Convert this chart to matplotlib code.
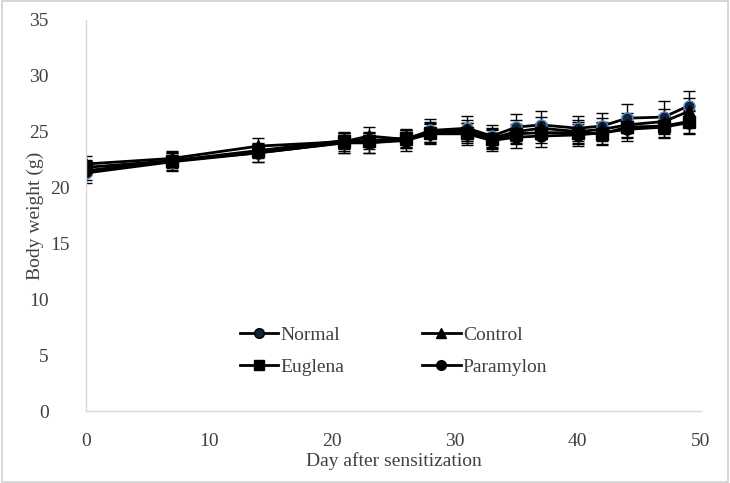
import matplotlib.pyplot as plt
from matplotlib.lines import Line2D
from matplotlib.transforms import ScaledTranslation

plt.rcParams['font.family'] = ['Liberation Serif', 'DejaVu Serif']

days = [0, 7, 14, 21, 23, 26, 28, 31, 33, 35, 37, 40, 42, 44, 47, 49]

normal = [21.3, 22.3, 23.1, 24.0, 24.0, 24.3, 25.1, 25.3, 24.6, 25.4, 25.6, 25.3, 25.5, 26.2, 26.3, 27.3]
control = [22.1, 22.6, 23.7, 24.1, 24.6, 24.3, 25.0, 25.1, 24.4, 25.0, 25.3, 25.0, 25.2, 25.6, 25.9, 26.8]
euglena = [21.8, 22.4, 23.3, 24.2, 24.2, 24.4, 24.9, 24.9, 24.3, 24.8, 24.9, 24.9, 24.8, 25.4, 25.5, 25.9]
paramylon = [21.5, 22.4, 23.1, 24.0, 24.0, 24.2, 24.8, 24.8, 24.2, 24.5, 24.6, 24.7, 24.9, 25.2, 25.4, 25.8]

normal_err = [0.9, 0.8, 0.8, 0.9, 0.9, 0.8, 1.0, 1.1, 1.0, 1.2, 1.2, 1.1, 1.2, 1.3, 1.4, 1.3]
control_err = [0.7, 0.7, 0.7, 0.8, 0.8, 0.8, 0.9, 0.9, 0.9, 1.0, 1.0, 1.0, 1.0, 1.1, 1.1, 1.2]
euglena_err = [0.7, 0.7, 0.7, 0.8, 0.8, 0.8, 0.9, 0.9, 0.9, 0.9, 0.9, 1.0, 1.0, 1.0, 1.0, 1.0]
paramylon_err = [0.8, 0.8, 0.8, 0.9, 0.9, 0.9, 0.9, 1.0, 0.9, 1.0, 1.0, 1.0, 1.0, 1.0, 1.0, 1.0]

fig = plt.figure(figsize=(7.3, 4.83), dpi=100)
ax = fig.add_axes([0.118, 0.149, 0.842, 0.81])

# series: (label, values, errors, marker, face, edge)
series = [
    ('Normal', normal, normal_err, 'o', '#14233a', '#5b8fc9'),
    ('Control', control, control_err, '^', 'black', 'black'),
    ('Euglena', euglena, euglena_err, 's', 'black', 'black'),
    ('Paramylon', paramylon, paramylon_err, 'o', 'black', 'black'),
]

handles = []
for label, vals, err, mk, fc, ec in series:
    ax.errorbar(days, vals, yerr=err, color='black', lw=2, marker=mk,
                markersize=8, markerfacecolor=fc, markeredgecolor=ec,
                ecolor='black', elinewidth=1, capsize=4, capthick=1)
    handles.append(Line2D([], [], color='black', lw=2, marker=mk, markersize=7,
                          markerfacecolor=fc if label != 'Normal' else '#14233a',
                          markeredgecolor='black', label=label))

ax.set_xlim(0, 50)
ax.set_ylim(0, 35)
ax.set_xticks(range(0, 51, 10))
ax.set_yticks(range(0, 36, 5))
ax.tick_params(length=0, labelsize=14, colors='#404040')
ax.tick_params(axis='y', pad=27)
ax.tick_params(axis='x', pad=16)
# the 15 and 20 labels sit closer to the axis in the original
for lab in ax.get_yticklabels():
    if lab.get_text() in ('15', '20'):
        lab.set_transform(lab.get_transform() + ScaledTranslation(0.21, 0, fig.dpi_scale_trans))
for s in ['top', 'right']:
    ax.spines[s].set_visible(False)
for s in ['left', 'bottom']:
    ax.spines[s].set_color('#d9d9d9')
    ax.spines[s].set_linewidth(1)

ax.set_xlabel('Day after sensitization', fontsize=14, color='#404040', labelpad=1)
ax.set_ylabel('Body weight (g)', fontsize=14, color='#404040')
ax.yaxis.set_label_coords(-0.068, 0.5)

# row-wise order: Normal, Control / Euglena, Paramylon
order = [0, 2, 1, 3]
leg = ax.legend([handles[i] for i in order], [handles[i].get_label() for i in order],
                loc='center', bbox_to_anchor=(0.5, 0.153), ncol=2, frameon=False,
                fontsize=14, columnspacing=4.0, handlelength=2.0, handletextpad=0.1,
                labelspacing=0.75)
for t in leg.get_texts():
    t.set_color('#404040')

# outer border
fig.patches.append(plt.Rectangle((0.003, 0.003), 0.994, 0.994, transform=fig.transFigure,
                                 fill=False, edgecolor='#d0d0d0', lw=1.2))

fig.savefig('out.png', dpi=100)
